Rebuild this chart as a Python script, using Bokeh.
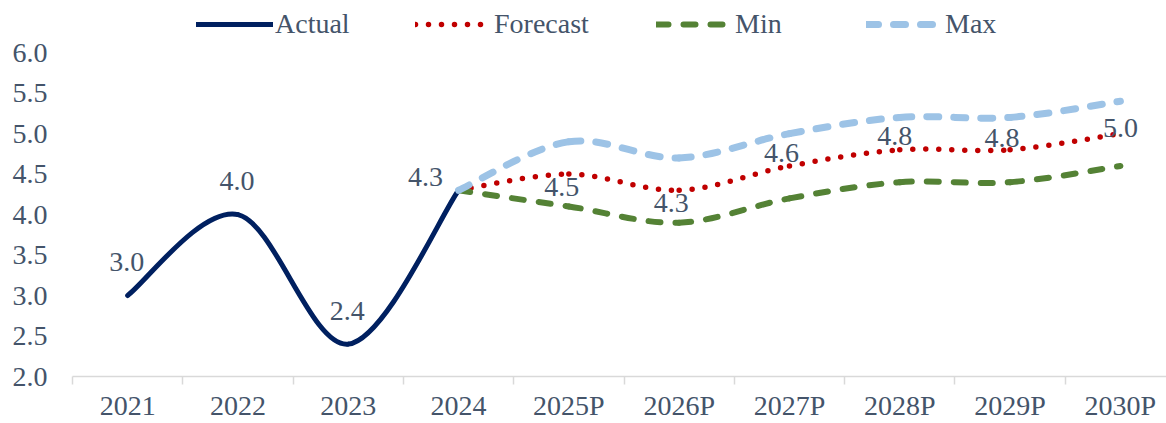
from bokeh.plotting import figure
from bokeh.models import (Range1d, FixedTicker, NumeralTickFormatter, Legend,
                          LegendItem, ColumnDataSource)
from bokeh.core.properties import value
from bokeh.embed import file_html
from bokeh.resources import INLINE

# ---------------- data ----------------
categories = ["2021", "2022", "2023", "2024", "2025P", "2026P",
              "2027P", "2028P", "2029P", "2030P"]
actual_years = ["2021", "2022", "2023", "2024"]
actual = [3.0, 4.0, 2.4, 4.3]
proj_years = ["2024", "2025P", "2026P", "2027P", "2028P", "2029P", "2030P"]
forecast = [4.3, 4.5, 4.3, 4.6, 4.8, 4.8, 5.0]
minimum = [4.3, 4.1, 3.9, 4.2, 4.4, 4.4, 4.6]
maximum = [4.3, 4.9, 4.7, 5.0, 5.2, 5.2, 5.4]
y_ticks = [2.0, 2.5, 3.0, 3.5, 4.0, 4.5, 5.0, 5.5, 6.0]

# ---------------- style ----------------
FONT = "Liberation Serif"
TEXT = "#44546A"
AXIS = "#D9D9D9"
FS = "28px"

# data-label offsets in screen px (style only)
actual_dx = [-1, -1, -1, -33]
actual_dy = [-34, -34, -33, -13]
fc_dx = [-7, -8, -8, -5, -8, 0]
fc_dy = [13, 13, -13, -14, -12, -6]


def xpos(labels):
    return [categories.index(c) + 0.5 for c in labels]


def smooth_source(labels, ys):
    xs = xpos(labels)
    n = len(xs)
    d = dict(x0=[], y0=[], x1=[], y1=[], cx0=[], cy0=[], cx1=[], cy1=[])
    for i in range(n - 1):
        pxa, pya = (xs[i - 1], ys[i - 1]) if i > 0 else (xs[i], ys[i])
        pxb, pyb = (xs[i + 2], ys[i + 2]) if i + 2 < n else (xs[i + 1], ys[i + 1])
        d["x0"].append(xs[i]); d["y0"].append(ys[i])
        d["x1"].append(xs[i + 1]); d["y1"].append(ys[i + 1])
        d["cx0"].append(xs[i] + (xs[i + 1] - pxa) / 6)
        d["cy0"].append(ys[i] + (ys[i + 1] - pya) / 6)
        d["cx1"].append(xs[i + 1] - (pxb - xs[i]) / 6)
        d["cy1"].append(ys[i + 1] - (pyb - ys[i]) / 6)
    return ColumnDataSource(d)


p = figure(width=1166, height=423, output_backend="svg", toolbar_location=None,
           x_range=Range1d(0, 9.918), y_range=Range1d(2.0, 6.644),
           min_border_left=72, min_border_right=0, min_border_top=0,
           min_border_bottom=0)
p.outline_line_color = None
p.grid.visible = False

common = dict(line_cap="round", line_join="round")
r_act = p.bezier(x0="x0", y0="y0", x1="x1", y1="y1", cx0="cx0", cy0="cy0",
                 cx1="cx1", cy1="cy1", source=smooth_source(actual_years, actual),
                 line_color="#002060", line_width=5, **common)
r_fc = p.bezier(x0="x0", y0="y0", x1="x1", y1="y1", cx0="cx0", cy0="cy0",
                cx1="cx1", cy1="cy1", source=smooth_source(proj_years, forecast),
                line_color="#C00000", line_width=5.5, line_dash="0 13", **common)
r_min = p.bezier(x0="x0", y0="y0", x1="x1", y1="y1", cx0="cx0", cy0="cy0",
                 cx1="cx1", cy1="cy1", source=smooth_source(proj_years, minimum),
                 line_color="#548235", line_width=6, line_dash="12 15", **common)
r_max = p.bezier(x0="x0", y0="y0", x1="x1", y1="y1", cx0="cx0", cy0="cy0",
                 cx1="cx1", cy1="cy1", source=smooth_source(proj_years, maximum),
                 line_color="#9DC3E6", line_width=7, line_dash="12 15", **common)

# data labels
lab_src = ColumnDataSource(dict(
    x=xpos(actual_years) + xpos(proj_years[1:]),
    y=actual + forecast[1:],
    t=["%.1f" % v for v in actual + forecast[1:]],
    dx=actual_dx + fc_dx,
    dy=actual_dy + fc_dy,
))
p.text(x="x", y="y", text="t", x_offset="dx", y_offset="dy", source=lab_src,
       text_font=value(FONT), text_font_size=FS, text_color=TEXT,
       text_align="center", text_baseline="middle")

# axes
xa = p.xaxis[0]
xa.ticker = FixedTicker(ticks=[i + 0.5 for i in range(len(categories))],
                        minor_ticks=list(range(len(categories))))
xa.major_label_overrides = {i + 0.5: c for i, c in enumerate(categories)}
xa.major_tick_line_color = None
xa.major_tick_out = 0
xa.major_tick_in = 0
xa.minor_tick_out = 8
xa.minor_tick_in = 0
xa.minor_tick_line_color = AXIS
xa.minor_tick_line_width = 1.5
xa.axis_line_color = AXIS
xa.axis_line_width = 1.5
xa.major_label_standoff = 5
xa.major_label_text_font = FONT
xa.major_label_text_font_size = FS
xa.major_label_text_color = TEXT

ya = p.yaxis[0]
ya.ticker = FixedTicker(ticks=y_ticks, minor_ticks=[])
ya.formatter = NumeralTickFormatter(format="0.0")
ya.axis_line_color = None
ya.major_tick_line_color = None
ya.major_tick_out = 0
ya.major_tick_in = 0
ya.minor_tick_line_color = None
ya.major_label_standoff = 25
ya.major_label_text_font = FONT
ya.major_label_text_font_size = FS
ya.major_label_text_color = TEXT

# legend (one box per entry so each sits where the reference has it)
leg_x = [124, 343, 584, 794]
for name, r, lx in zip(["Actual", "Forecast", "Min", "Max"],
                       [r_act, r_fc, r_min, r_max], leg_x):
    leg = Legend(items=[LegendItem(label=name, renderers=[r])],
                 location=(lx, 336), orientation="horizontal",
                 padding=0, margin=0, border_line_color=None,
                 background_fill_alpha=0, glyph_width=77, glyph_height=20,
                 label_standoff=2, label_height=20,
                 label_text_font=FONT, label_text_font_size=FS,
                 label_text_color=TEXT)
    p.add_layout(leg)

open("out.html", "w").write(file_html(p, INLINE))
